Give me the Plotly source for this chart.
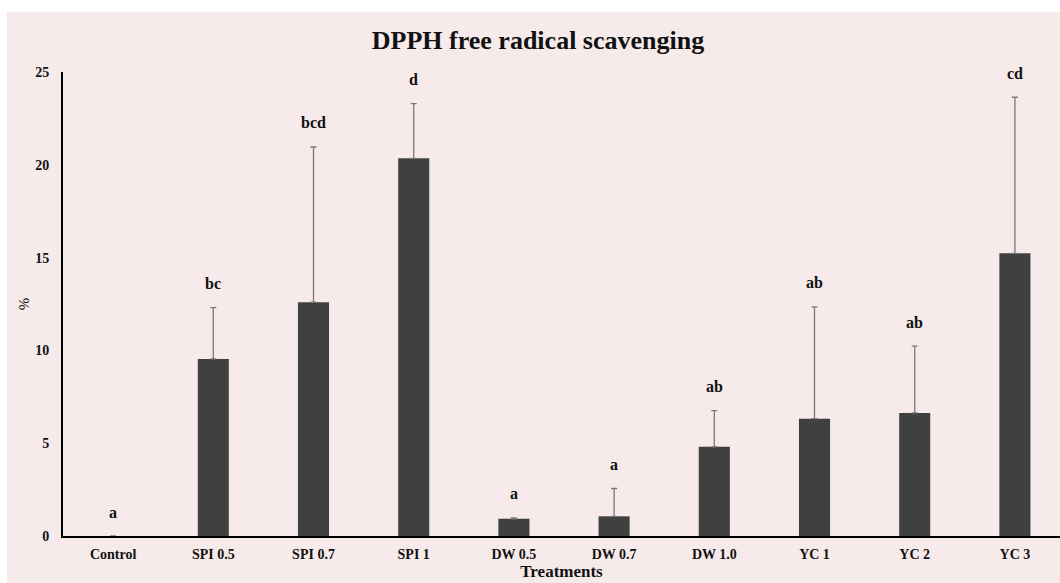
import plotly.graph_objects as go

categories = ["Control", "SPI 0.5", "SPI 0.7", "SPI 1", "DW 0.5", "DW 0.7", "DW 1.0", "YC 1", "YC 2", "YC 3"]
means = [0.0, 9.54, 12.6, 20.35, 0.93, 1.06, 4.81, 6.32, 6.63, 15.23]
sds = [None, 2.76, 8.36, 2.95, 0.05, 1.5, 1.94, 6.03, 3.6, 8.41]
letters = ["a", "bc", "bcd", "d", "a", "a", "ab", "ab", "ab", "cd"]

W, H = 1060, 583
ml, mr, mt, mb = 63, 0, 72, 47
pw, ph = W - ml - mr, H - mt - mb

font = "Liberation Serif, Times New Roman, serif"

fig = go.Figure()
fig.add_trace(go.Bar(
    x=list(range(len(categories))), y=means, width=0.31,
    marker=dict(color="#404040", line=dict(width=0)),
    error_y=dict(type="data", array=sds, symmetric=False,
                 arrayminus=[None if s is None else 0 for s in sds],
                 color="#7a7a7a", thickness=1.3, width=3),
    showlegend=False, hoverinfo="skip",
))

for i, (m, s, lab) in enumerate(zip(means, sds, letters)):
    fig.add_annotation(x=i, y=m + (s or 0), text=f"<b>{lab}</b>", showarrow=False, yshift=24,
                       font=dict(family=font, size=16, color="#111111"))

# pink background panel (white strip at top/left)
fig.add_shape(type="rect", xref="paper", yref="paper", layer="below",
              x0=(7 - ml) / pw, x1=(W - ml + 5) / pw,
              y0=-(mb + 5) / ph, y1=(H - 12 - mb) / ph,
              fillcolor="#F6EAEA", line=dict(width=0))

fig.update_layout(
    width=W, height=H,
    margin=dict(l=ml, r=mr, t=mt, b=mb),
    paper_bgcolor="white", plot_bgcolor="rgba(0,0,0,0)",
    title=dict(text="<b>DPPH free radical scavenging</b>", x=538 / W, xanchor="center",
               y=1 - 40 / H, yanchor="middle",
               font=dict(family=font, size=26, color="#111111")),
    font=dict(family=font, color="#111111"),
)
fig.update_xaxes(
    range=[-0.5, 9.45], tickmode="array", tickvals=list(range(len(categories))),
    ticktext=[f"<b>{c}</b>" for c in categories], tickfont=dict(size=14, family=font),
    showline=True, linecolor="black", linewidth=2, showgrid=False, zeroline=False,
    ticks="", ticklabelstandoff=4,
    title=dict(text="<b>Treatments</b>", font=dict(size=17, family=font), standoff=1),
)
fig.update_yaxes(
    range=[0, 25], tickvals=[0, 5, 10, 15, 20, 25],
    ticktext=[f"<b>{v}</b>" for v in [0, 5, 10, 15, 20, 25]], tickfont=dict(size=14, family=font),
    showline=True, linecolor="black", linewidth=2, showgrid=False, zeroline=False,
    ticks="", ticklabelstandoff=9,
    title=dict(text="%", font=dict(size=15, family=font), standoff=2),
)

fig.write_html("out.html", config={"displayModeBar": False},
               post_script="document.body.style.margin='0';document.body.style.padding='0';")
